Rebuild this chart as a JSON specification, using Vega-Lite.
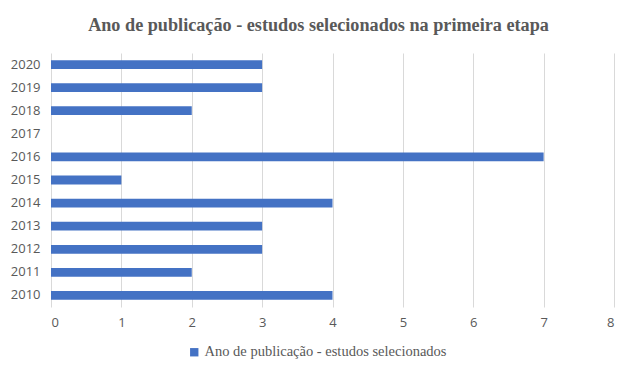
{
  "$schema": "https://vega.github.io/schema/vega-lite/v6.json",
  "autosize": {"type": "none"},
  "width": 563,
  "height": 254,
  "padding": {"left": 51, "top": 53, "right": 24, "bottom": 77},
  "background": "white",
  "title": {
    "text": "Ano de publicação - estudos selecionados na primeira etapa",
    "font": "Liberation Serif",
    "fontSize": 18.2,
    "fontWeight": "bold",
    "color": "#595959",
    "anchor": "middle",
    "dx": -14,
    "offset": 18
  },
  "data": {
    "values": [
      {"ano": "2010", "estudos": 4, "serie": "Ano de publicação - estudos selecionados"},
      {"ano": "2011", "estudos": 2, "serie": "Ano de publicação - estudos selecionados"},
      {"ano": "2012", "estudos": 3, "serie": "Ano de publicação - estudos selecionados"},
      {"ano": "2013", "estudos": 3, "serie": "Ano de publicação - estudos selecionados"},
      {"ano": "2014", "estudos": 4, "serie": "Ano de publicação - estudos selecionados"},
      {"ano": "2015", "estudos": 1, "serie": "Ano de publicação - estudos selecionados"},
      {"ano": "2016", "estudos": 7, "serie": "Ano de publicação - estudos selecionados"},
      {"ano": "2017", "estudos": 0, "serie": "Ano de publicação - estudos selecionados"},
      {"ano": "2018", "estudos": 2, "serie": "Ano de publicação - estudos selecionados"},
      {"ano": "2019", "estudos": 3, "serie": "Ano de publicação - estudos selecionados"},
      {"ano": "2020", "estudos": 3, "serie": "Ano de publicação - estudos selecionados"}
    ]
  },
  "mark": {"type": "bar"},
  "encoding": {
    "y": {
      "field": "ano",
      "type": "ordinal",
      "sort": "descending",
      "scale": {"paddingInner": 0.62, "paddingOuter": 0.31},
      "axis": {
        "title": null,
        "domain": false,
        "ticks": false,
        "grid": false,
        "labelFont": "Open Sans",
        "labelFontSize": 13,
        "labelColor": "#595959",
        "labelPadding": 11
      }
    },
    "x": {
      "field": "estudos",
      "type": "quantitative",
      "scale": {"domain": [0, 8], "nice": false},
      "axis": {
        "title": null,
        "domain": false,
        "ticks": false,
        "values": [0, 1, 2, 3, 4, 5, 6, 7, 8],
        "labelOverlap": false,
        "grid": true,
        "gridColor": "#d9d9d9",
        "gridWidth": 1,
        "labelFont": "Open Sans",
        "labelFontSize": 13,
        "labelColor": "#595959",
        "labelPadding": 9
      }
    },
    "color": {
      "field": "serie",
      "type": "nominal",
      "scale": {"range": ["#4472C4"]},
      "legend": {
        "title": null,
        "orient": "none",
        "legendX": 136,
        "legendY": 292,
        "symbolType": "square",
        "symbolSize": 70,
        "symbolOpacity": 1,
        "labelFont": "Liberation Serif",
        "labelFontSize": 14.5,
        "labelLimit": 400,
        "labelColor": "#595959",
        "labelOffset": 3
      }
    }
  },
  "config": {
    "view": {"stroke": null}
  }
}
